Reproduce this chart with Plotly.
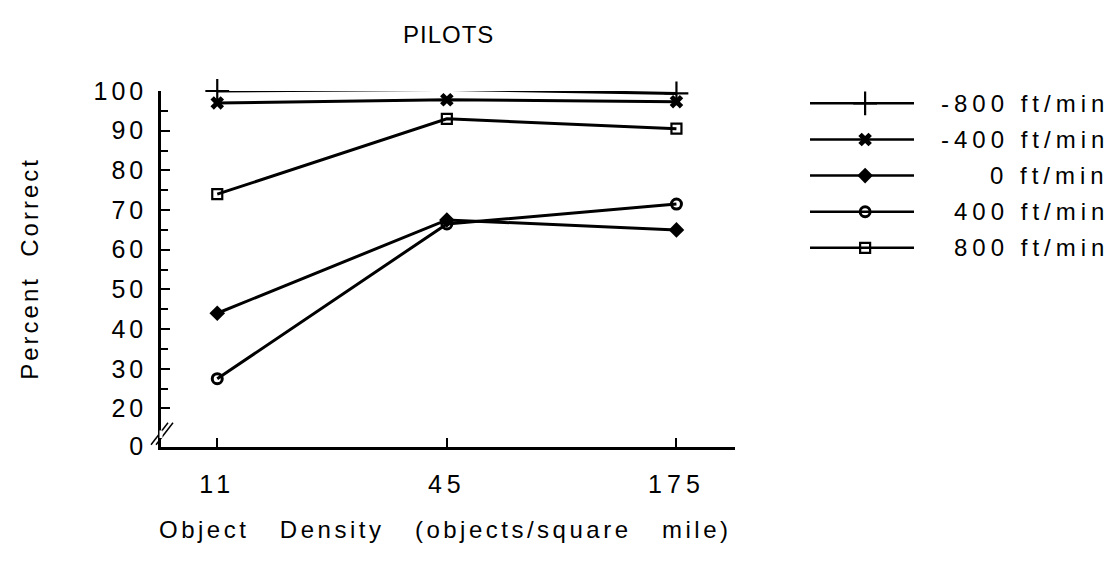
import plotly.graph_objects as go

W, H = 1115, 568

categories = ["11", "45", "175"]
series_names = ["-800 ft/min", "-400 ft/min", "0 ft/min", "400 ft/min", "800 ft/min"]
v_m800 = [100.0, 100.4, 99.4]
v_m400 = [97.0, 97.8, 97.3]
v_0 = [44.0, 67.5, 65.0]
v_400 = [27.5, 66.5, 71.5]
v_800 = [74.0, 93.0, 90.5]
y_tick_vals = [20, 30, 40, 50, 60, 70, 80, 90, 100]
y_minor_vals = [25, 35, 45, 55, 65, 75, 85, 95]
y_break_value = 10.4  # bottom of broken axis, labelled "0"

all_series = [v_m800, v_m400, v_0, v_400, v_800]
symbols = ["cross-thin", "x", "diamond", "circle-open", "square-open"]
msizes = [17, 12, 12, 10, 10]
mline = [2.2, 0, 0, 3, 2.2]

# pixel layout
px_l, px_r, px_t, px_b = 161, 735, 81, 455
xdom = [px_l / W, px_r / W]
ydom = [(H - px_b) / H, (H - px_t) / H]

def sp(t, n):
    return f'<span style="letter-spacing:{n}px">{t}</span>'

FONT = "Liberation Sans, Arial"

fig = go.Figure()
xs = list(range(len(categories)))
for name, vals, sym, ms, ml in zip(series_names, all_series, symbols, msizes, mline):
    fig.add_trace(go.Scatter(
        x=xs, y=vals, mode="lines+markers", name=name, showlegend=False,
        line=dict(color="black", width=3),
        marker=dict(symbol=sym, size=ms, color="black",
                    line=dict(color="black", width=ml)),
        cliponaxis=False,
    ))

# custom legend
row0, rowstep = 94, 38
leg_top, leg_bot = row0 - rowstep / 2, row0 + 4 * rowstep + rowstep / 2
for i, (name, sym, ms, ml) in enumerate(zip(series_names, symbols, msizes, mline)):
    fig.add_trace(go.Scatter(x=[0, 1], y=[i, i], mode="lines", xaxis="x2", yaxis="y2",
                             line=dict(color="black", width=2.5), showlegend=False,
                             hoverinfo="skip"))
    fig.add_trace(go.Scatter(x=[0.53], y=[i], mode="markers", xaxis="x2", yaxis="y2",
                             marker=dict(symbol=sym, size=ms, color="black",
                                         line=dict(color="black", width=ml)),
                             showlegend=False, hoverinfo="skip", cliponaxis=False))
    fig.add_annotation(x=1111 / W, y=i, xref="paper", yref="y2", xanchor="right",
                       yanchor="middle", showarrow=False,
                       text=sp(name, 5),
                       font=dict(family=FONT, size=24, color="black"))

fig.update_layout(
    width=W, height=H,
    margin=dict(l=0, r=0, t=0, b=0),
    paper_bgcolor="white", plot_bgcolor="white",
    font=dict(family=FONT, color="black"),
    xaxis=dict(domain=xdom, range=[-0.245, 2.255], tickvals=xs,
               ticktext=[sp(c, 5) for c in categories],
               ticks="inside", ticklen=9, tickwidth=2, tickcolor="black",
               showline=True, linecolor="black", linewidth=2.5, showgrid=False,
               zeroline=False, tickfont=dict(size=25), ticklabelstandoff=14),
    yaxis=dict(domain=ydom, range=[y_break_value, 100],
               tickvals=[y_break_value] + y_tick_vals,
               ticktext=[sp(t, 4) for t in ["0"] + [str(v) for v in y_tick_vals]],
               ticks="inside", ticklen=9, tickwidth=2, tickcolor="black",
               minor=dict(tickvals=y_minor_vals, ticks="inside", ticklen=7, tickwidth=2,
                          tickcolor="black"),
               showline=True, linecolor="black", linewidth=2.5, showgrid=False,
               zeroline=False, tickfont=dict(size=25), ticklabelstandoff=6),
    xaxis2=dict(domain=[810 / W, 914 / W], range=[0, 1], visible=False, anchor="y2"),
    yaxis2=dict(domain=[(H - leg_bot) / H, (H - leg_top) / H], range=[4.5, -0.5],
                visible=False, anchor="x2"),
)

# titles
fig.add_annotation(x=448 / W, y=(H - 22) / H, xref="paper", yref="paper",
                   text=sp("PILOTS", 1), showarrow=False, font=dict(size=24),
                   xanchor="center", yanchor="middle")
fig.add_annotation(x=30 / W, y=(H - 268) / H, xref="paper", yref="paper",
                   text=sp("Percent&nbsp;&nbsp;Correct", 3), textangle=-90, showarrow=False,
                   font=dict(size=24), xanchor="center", yanchor="middle")
fig.add_annotation(x=445 / W, y=(H - 542) / H, xref="paper", yref="paper",
                   text=sp("Object&nbsp;&nbsp;&nbsp;Density&nbsp;&nbsp;&nbsp;(objects/square&nbsp;&nbsp;&nbsp;mile)", 3.5),
                   showarrow=False, font=dict(size=24), xanchor="center", yanchor="middle")

# axis break marks
def px2paper(x, y):
    return x / W, (H - y) / H

for dx in (0, 5):
    x0, y0 = px2paper(151 + dx, 453)
    x1, y1 = px2paper(168 + dx, 430)
    fig.add_shape(type="line", xref="paper", yref="paper", x0=x0, y0=y0, x1=x1, y1=y1,
                  line=dict(color="black", width=1.5))
# gap in axis between marks
x0, y0 = px2paper(159.5, 446)
x1, y1 = px2paper(162.5, 438)
fig.add_shape(type="rect", xref="paper", yref="paper", x0=x0, y0=y0, x1=x1, y1=y1,
              line=dict(width=0), fillcolor="white")

fig.write_html("out.html")
